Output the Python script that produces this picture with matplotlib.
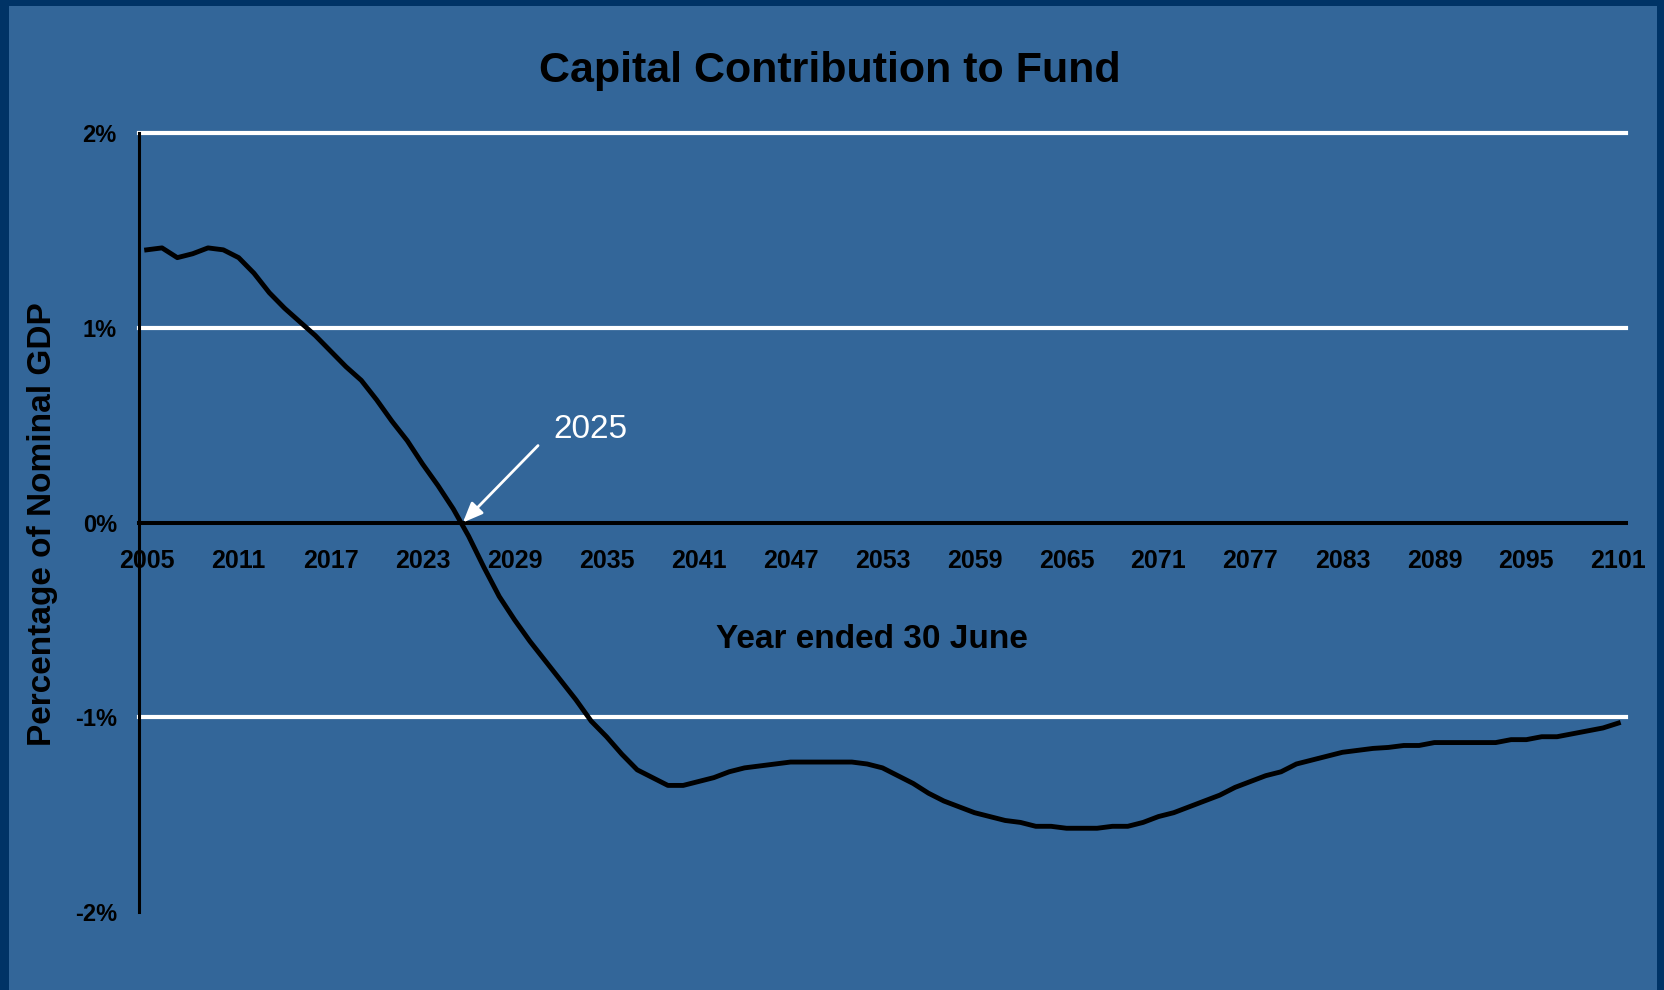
import matplotlib.pyplot as plt
from matplotlib.patches import Rectangle

plt.rcParams['font.family'] = ['Liberation Sans', 'DejaVu Sans']

years = list(range(2005, 2102))
contribution = [
    1.40, 1.41, 1.36, 1.38, 1.41, 1.40, 1.36, 1.28, 1.18, 1.10,   # 2005-2014
    1.03, 0.96, 0.88, 0.80, 0.73, 0.63, 0.52, 0.42, 0.30, 0.19,   # 2015-2024
    0.07, -0.07, -0.23, -0.38, -0.50, -0.61, -0.71, -0.81, -0.91, -1.02,  # 2025-2034
    -1.10, -1.19, -1.27, -1.31, -1.35, -1.35, -1.33, -1.31, -1.28, -1.26,  # 2035-2044
    -1.25, -1.24, -1.23, -1.23, -1.23, -1.23, -1.23, -1.24, -1.26, -1.30,  # 2045-2054
    -1.34, -1.39, -1.43, -1.46, -1.49, -1.51, -1.53, -1.54, -1.56, -1.56,  # 2055-2064
    -1.57, -1.57, -1.57, -1.56, -1.56, -1.54, -1.51, -1.49, -1.46, -1.43,  # 2065-2074
    -1.40, -1.36, -1.33, -1.30, -1.28, -1.24, -1.22, -1.20, -1.18, -1.17,  # 2075-2084
    -1.16, -1.155, -1.145, -1.145, -1.13, -1.13, -1.13, -1.13, -1.13, -1.115,  # 2085-2094
    -1.115, -1.10, -1.10, -1.085, -1.07, -1.055, -1.03,  # 2095-2101
]
xtick_years = list(range(2005, 2102, 6))
ytick_values = [-2, -1, 0, 1, 2]
ytick_labels = ["-2%", "-1%", "0%", "1%", "2%"]

bg = "#336699"
border = "#003366"

fig = plt.figure(figsize=(16.64, 9.9), dpi=100)
fig.patch.set_facecolor(border)
fig.patches.append(Rectangle((9 / 1664, 0), 1648 / 1664, 984 / 990,
                             transform=fig.transFigure, facecolor=bg,
                             edgecolor="none", zorder=-10))

ax = fig.add_axes([139 / 1664, 1 - 912 / 990, 1487 / 1664, 779 / 990])
ax.set_facecolor(bg)

# white gridlines (zero line is the black x axis)
for v in [2, 1, -1]:
    ax.axhline(v, color="white", linewidth=3, zorder=1, clip_on=False)

ax.plot(years, contribution, color="black", linewidth=3.5, zorder=3)

ax.set_xlim(2004.5, 2101.5)
ax.set_ylim(-2, 2)

for s in ["top", "right"]:
    ax.spines[s].set_visible(False)
ax.spines["bottom"].set_position(("data", 0))
ax.spines["bottom"].set_linewidth(2.9)
ax.spines["bottom"].set_zorder(2)
ax.spines["left"].set_linewidth(2.2)

ax.set_xticks(xtick_years)
ax.set_xticklabels([str(y) for y in xtick_years], fontsize=18,
                   fontweight="bold")
ax.set_yticks(ytick_values)
ax.set_yticklabels(ytick_labels, fontsize=17, fontweight="bold")
ax.tick_params(axis="x", length=0, pad=19)
ax.tick_params(axis="y", length=0, pad=16)

fig.text(829.5 / 1664, 1 - 71 / 990, "Capital Contribution to Fund",
         fontsize=31, fontweight="bold", ha="center", va="center")
fig.text(872 / 1664, 1 - 640 / 990, "Year ended 30 June", fontsize=24,
         fontweight="bold", ha="center", va="center")
fig.text(43 / 1664, 1 - 524 / 990, "Percentage of Nominal GDP", fontsize=24,
         fontweight="bold", ha="center", va="center", rotation=90)

# annotation for the year the contribution turns negative
ax.annotate("", xy=(2025.63, 0.0), xytext=(2030.53, 0.395),
            arrowprops=dict(arrowstyle="-|>,head_length=1.2,head_width=0.5",
                            color="white", linewidth=2, shrinkA=0, shrinkB=0),
            zorder=4)
ax.text(2031.5, 0.475, "2025", color="white", fontsize=24, ha="left",
        va="center")

fig.savefig("out.png", dpi=100, facecolor=fig.get_facecolor())
